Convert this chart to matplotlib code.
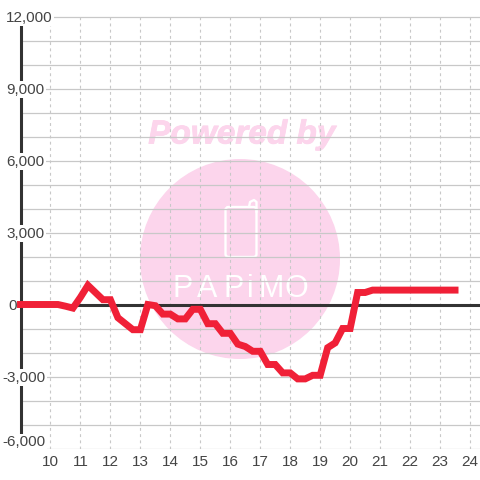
import matplotlib
matplotlib.use('Agg')
import matplotlib.pyplot as plt
import matplotlib.patheffects as pe
from matplotlib.patches import Circle, FancyBboxPatch
from matplotlib.transforms import blended_transform_factory

plt.rcParams['font.family'] = ['Liberation Sans', 'DejaVu Sans']

# Hour of day, one reading every 15 minutes
hours = [9 + i * 0.25 for i in range(59)]
values = [0, 0, 0, 0, 0, 0, -70, -150, 300, 800, 500, 200, 200, -550, -800,
          -1050, -1050, 0, -50, -400, -400, -600, -600, -200, -200, -800, -800,
          -1200, -1200, -1650, -1750, -1950, -1950, -2500, -2500, -2850, -2850,
          -3100, -3100, -2950, -2950, -1800, -1600, -1000, -1000, 500, 500,
          600, 600, 600, 600, 600, 600, 600, 600, 600, 600, 600, 600]
x_ticks = list(range(10, 25))
y_minor = list(range(-6000, 13000, 1000))
y_labels = ['12,000', '9,000', '6,000', '3,000', '0', '-3,000', '-6,000']

W = 480
fig = plt.figure(figsize=(4.8, 4.8), dpi=100)

# watermark sits underneath everything, in pixel coordinates
bg = fig.add_axes([0, 0, 1, 1], zorder=0)
bg.set_xlim(0, W)
bg.set_ylim(W, 0)
bg.axis('off')
pink = '#fcd5ec'
bg.add_patch(Circle((240, 259), 100, color=pink, lw=0))
bg.text(242, 135, 'Powered by', color=pink, fontsize=24, fontweight='bold', fontstyle='italic',
        ha='center', va='center', path_effects=[pe.withStroke(linewidth=0.6, foreground=pink)])
bg.add_patch(FancyBboxPatch((225.5, 207), 31, 50, boxstyle='round,pad=0,rounding_size=3',
                            fc='none', ec='white', lw=1.7))
bg.plot([249, 250, 254, 256.5, 256.5], [207, 202, 200, 202, 212], color='white', lw=1.7,
        solid_capstyle='round')
for letter, lx in zip('PAPiMO', [183, 207, 234, 250, 271, 296]):
    bg.text(lx, 289, letter, color='white', fontsize=22, ha='center', va='center')

ax = fig.add_axes([20.5 / W, 1 - 448.5 / W, 1 - 20.5 / W, 432.5 / W], zorder=1)
ax.patch.set_alpha(0)
ax.set_xlim(9, 24 + 10 / 30)
ax.set_ylim(-6000, 12000 + 0.5 / 0.024)

ax.set_yticks(y_minor)
ax.set_xticks(x_ticks)
ax.tick_params(length=0, labelleft=False, labelbottom=False)
ax.grid(True, axis='y', color='#c8c8c8', lw=0.9)
ax.grid(True, axis='x', color='#c8c8c8', lw=0.8, ls=(0, (2.6, 3)))
ax.set_axisbelow(True)

for s in ['top', 'right', 'bottom']:
    ax.spines[s].set_visible(False)
ax.spines['left'].set_color('#333333')
ax.spines['left'].set_linewidth(2.2)
ax.spines['left'].set_bounds(-5480, 11690)

ax.axhline(0, color='#333333', lw=2.2, zorder=3)
ax.plot(hours, values, color='#f02037', lw=5, zorder=4, clip_on=False,
        solid_capstyle='projecting', solid_joinstyle='miter')

# tick labels have a white box that interrupts the axis and grid lines
box = dict(facecolor='white', edgecolor='none', pad=1)
label_x = [6, 6, 6, 6, 8, 2, 2]
label_y = [17.5, 89.5, 161.5, 233.5, 305.5, 377.5, 442.5]
for lab, lx, ly in zip(y_labels, label_x, label_y):
    ax.text(lx / W, 1 - ly / W, lab, transform=fig.transFigure, ha='left', va='center',
            fontsize=11, color='#444444', bbox=box, zorder=3.5)
x_trans = blended_transform_factory(ax.transData, fig.transFigure)
for t in x_ticks:
    ax.text(t, 1 - 461.5 / W, str(t), transform=x_trans, ha='center', va='center',
            fontsize=11, color='#444444', bbox=box, zorder=3.5)

fig.savefig('out.png', dpi=100)
